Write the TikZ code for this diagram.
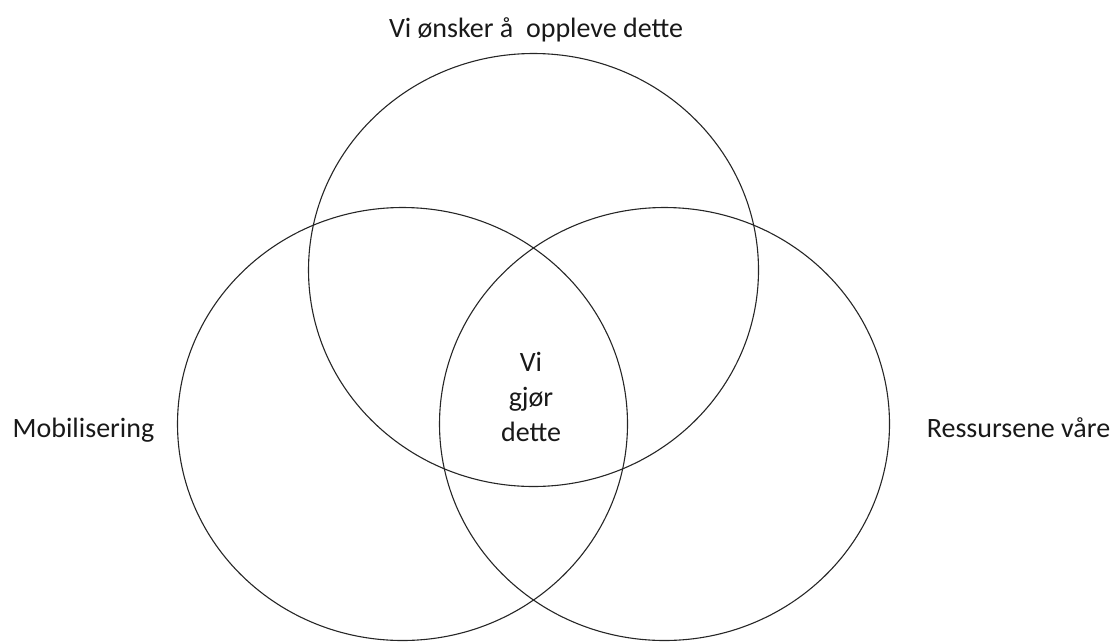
\documentclass[tikz,border=0pt]{standalone}
\usepackage{fontspec}
\setmainfont{Carlito}
\begin{document}
\begin{tikzpicture}[x=1pt,y=-1pt,
  venn/.style={draw=black!85,line width=1.1pt},
  lbl/.style={font=\fontsize{28}{35}\selectfont,text=black!90,inner sep=0pt,align=center}]
\useasboundingbox (0,0) rectangle (1115,643);
\draw[venn] (533.5,270) ellipse [x radius=225,y radius=216.5];
\draw[venn] (402.5,424) ellipse [x radius=225,y radius=216.5];
\draw[venn] (664.5,424) ellipse [x radius=225,y radius=216.5];
\node[lbl,anchor=base] (top) at (536,37) {Vi ønsker å\ \ oppleve dette};
\node[lbl,anchor=base] (left) at (83.5,437) {Mobilisering};
\node[lbl,anchor=base] (right) at (1018.5,437) {Ressursene våre};
\node[lbl] (mid) at (531,397) {Vi\\gjør\\dette};
\end{tikzpicture}
\end{document}
